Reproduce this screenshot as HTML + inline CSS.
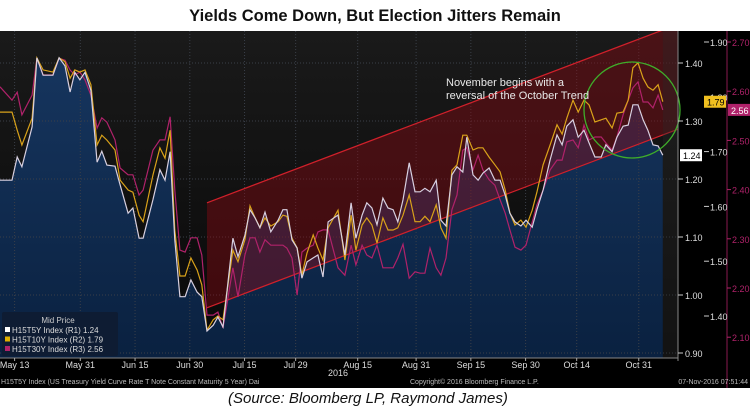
<!DOCTYPE html>
<html><head><meta charset="utf-8">
<style>
html,body{margin:0;padding:0;background:#fff;width:750px;height:416px;overflow:hidden;font-family:"Liberation Sans",sans-serif;}
#title{position:absolute;left:0;top:7px;width:750px;text-align:center;font-weight:bold;font-size:16.5px;color:#111;}
#source{position:absolute;left:228px;top:390px;font-style:italic;font-size:15px;color:#111;}
svg{position:absolute;left:0;top:31px;}
</style></head><body>
<div id="title">Yields Come Down, But Election Jitters Remain</div>
<svg id="chart" width="750" height="357"></svg>
<div id="source">(Source: Bloomberg LP, Raymond James)</div>
<script>
// day offsets from May 9 2016
const days=[0,3.3,4.7,6.0,8.8,10.1,11.8,14.5,16.2,17.8,19.2,20.5,21.9,23.3,24.9,26.6,27.9,29.3,31.5,32.9,35.1,36.4,38.1,39.2,41.9,43.8,45.2,46.6,47.9,49.3,50.7,52.3,54.0,55.3,56.7,58.4,59.7,61.1,63.8,65.2,67.1,68.5,69.9,71.2,72.6,74.2,76.2,77.5,78.6,80.0,81.4,82.7,84.1,85.8,87.1,88.5,89.9,92.6,94.5,96.2,97.5,99.2,100.5,101.9,103.3,104.9,106.3,107.7,109.0,110.4,112.1,113.7,115.1,116.4,117.8,119.5,120.8,122.2,123.8,125.2,126.8,127.9,129.6,131.0,132.3,134.0,135.6,137.0,138.4,139.7,141.1,142.7,144.1,145.8,147.1,148.8,150.7,152.6,154.0,155.3,157.0,158.4,160.0,161.4,163.0,164.7,166.0,167.7,169.0,170.7,172.1,173.4,174.8,176.2,177.5,178.9,180.3,181.6];
const y5=[1.198,1.198,1.238,1.221,1.290,1.409,1.379,1.379,1.409,1.395,1.350,1.384,1.371,1.384,1.353,1.229,1.248,1.224,1.222,1.190,1.141,1.150,1.098,1.098,1.164,1.216,1.198,1.247,1.095,0.997,0.997,1.026,1.005,0.997,0.938,0.948,0.962,0.945,1.098,1.066,1.103,1.147,1.133,1.116,1.143,1.109,1.129,1.147,1.147,1.095,1.081,1.029,1.057,1.064,1.069,1.031,1.126,1.138,1.069,1.159,1.098,1.138,1.159,1.150,1.121,1.167,1.150,1.147,1.126,1.164,1.228,1.178,1.178,1.184,1.178,1.198,1.129,1.119,1.207,1.221,1.212,1.272,1.207,1.198,1.210,1.219,1.198,1.198,1.172,1.141,1.126,1.119,1.129,1.117,1.147,1.181,1.233,1.276,1.259,1.291,1.302,1.272,1.284,1.262,1.238,1.238,1.259,1.247,1.272,1.291,1.293,1.328,1.328,1.302,1.284,1.259,1.257,1.241];
const y10=[1.772,1.772,1.739,1.712,1.761,1.871,1.849,1.845,1.871,1.864,1.834,1.849,1.845,1.849,1.822,1.712,1.730,1.721,1.703,1.648,1.630,1.626,1.584,1.572,1.657,1.707,1.688,1.739,1.557,1.473,1.473,1.506,1.484,1.457,1.374,1.393,1.400,1.393,1.520,1.499,1.539,1.601,1.579,1.561,1.579,1.564,1.572,1.584,1.582,1.542,1.524,1.475,1.515,1.548,1.524,1.502,1.561,1.593,1.502,1.584,1.520,1.566,1.579,1.566,1.533,1.579,1.557,1.557,1.561,1.584,1.621,1.572,1.572,1.582,1.572,1.603,1.561,1.542,1.666,1.676,1.730,1.730,1.703,1.707,1.707,1.690,1.676,1.663,1.630,1.588,1.566,1.575,1.562,1.593,1.626,1.676,1.712,1.749,1.732,1.761,1.794,1.772,1.794,1.785,1.754,1.758,1.761,1.743,1.770,1.772,1.794,1.853,1.862,1.834,1.818,1.812,1.822,1.791];
const y30=[2.609,2.582,2.598,2.552,2.592,2.667,2.633,2.633,2.667,2.663,2.643,2.633,2.639,2.623,2.592,2.525,2.546,2.537,2.501,2.444,2.430,2.430,2.389,2.399,2.480,2.501,2.501,2.548,2.399,2.277,2.273,2.302,2.302,2.267,2.145,2.145,2.151,2.119,2.241,2.182,2.267,2.302,2.302,2.273,2.298,2.287,2.287,2.287,2.281,2.261,2.186,2.273,2.281,2.287,2.314,2.318,2.318,2.241,2.226,2.287,2.247,2.287,2.267,2.261,2.287,2.241,2.241,2.241,2.261,2.289,2.220,2.233,2.230,2.230,2.281,2.241,2.226,2.261,2.359,2.389,2.480,2.485,2.440,2.470,2.440,2.420,2.409,2.379,2.352,2.318,2.283,2.277,2.287,2.334,2.369,2.399,2.440,2.460,2.460,2.497,2.501,2.485,2.531,2.501,2.507,2.507,2.495,2.480,2.507,2.552,2.582,2.607,2.619,2.578,2.578,2.566,2.592,2.562];
const xLabels=["May 13","May 31","Jun 15","Jun 30","Jul 15","Jul 29","Aug 15","Aug 31","Sep 15","Sep 30","Oct 14","Oct 31"];
const xLabelDays=[4,22,37,52,67,81,98,114,129,144,158,175];
const r1Ticks=[0.90,1.00,1.10,1.20,1.30,1.40];
const r2Ticks=[1.40,1.50,1.60,1.70,1.80,1.90];
const r3Ticks=[2.10,2.20,2.30,2.40,2.50,2.60,2.70];
const chStart=[56.7,0.978,1.159];
const OY=31;
const X=d=>d*3.65;
const Y1=v=>63+(1.40-v)*580-OY;
const Y2=v=>42+(1.90-v)*548-OY;
const Y3=v=>42+(2.70-v)*492-OY;
const svg=document.getElementById('chart');
const NS='http://www.w3.org/2000/svg';
function mk(t,a,p){const e=document.createElementNS(NS,t);for(const k in a)e.setAttribute(k,a[k]);(p||svg).appendChild(e);return e;}
mk('defs',{}).innerHTML='<linearGradient id="bg" x1="0" y1="0" x2="0" y2="1"><stop offset="0" stop-color="#1a1a1a"/><stop offset="1" stop-color="#080808"/></linearGradient><linearGradient id="ar" x1="0" y1="0" x2="0" y2="1"><stop offset="0" stop-color="#16355e"/><stop offset="1" stop-color="#0a2140"/></linearGradient>';
let e;
e=mk('rect',{x:0,y:0,width:750,height:357,fill:'#000'});

e=mk('rect',{x:0,y:0,width:678,height:327,fill:'url(#bg)'});

const lastX=X(days[days.length-1]);
let d='M0,327 '+days.map((v,i)=>'L'+X(v).toFixed(1)+','+Y1(y5[i]).toFixed(1)).join(' ')+' L'+lastX+',327Z';
e=mk('path',{d:d,fill:'url(#ar)'});

r1Ticks.forEach(v=>{const g=mk('line',{x1:0,x2:678,y1:Y1(v),y2:Y1(v),stroke:'#3a3f48','stroke-dasharray':'1,2','stroke-width':1});
});
xLabelDays.forEach(v=>{const g=mk('line',{x1:X(v),x2:X(v),y1:0,y2:327,stroke:'#3a3f48','stroke-dasharray':'1,2','stroke-width':1});
});
const x0=X(chStart[0]),ux0=Y1(chStart[1]),lx0=Y1(chStart[2]);
const sl=-0.379;
const ux1=ux0+sl*(678-x0),lx1=lx0+sl*(678-x0);
e=mk('polygon',{points:`${x0},${ux0} 678,${ux1} 678,${lx1} ${x0},${lx0}`,fill:'rgba(140,10,20,0.42)'});

e=mk('line',{x1:x0,y1:ux0,x2:678,y2:ux1,stroke:'#d0202a','stroke-width':1.2});

e=mk('line',{x1:x0,y1:lx0,x2:678,y2:lx1,stroke:'#d0202a','stroke-width':1.2});

e=mk('rect',{x:lastX,y:0,width:678-lastX,height:327,fill:'rgba(40,40,40,0.35)'});

function line(arr,fy,col,name){const p=days.map((v,i)=>(i?'L':'M')+X(v).toFixed(1)+','+fy(arr[i]).toFixed(1)).join(' ');
const l=mk('path',{d:p,fill:'none',stroke:col,'stroke-width':1.2});}
line(y30,Y3,'#b0226a','30y-line');
line(y10,Y2,'#d9a21a','10y-line');
line(y5,Y1,'#d8d0e0','5y-line');
e=mk('circle',{cx:632,cy:79,r:48,fill:'none',stroke:'#3fae2a','stroke-width':1.3});

function txt(x,y,s,o,name){const t=mk('text',Object.assign({x:x,y:y,'font-family':'Liberation Sans, sans-serif'},o));t.textContent=s;return t;}
txt(446,55,'November begins with a',{fill:'#e8e8e8','font-size':11},'annotation-line1');
txt(446,68,'reversal of the October Trend',{fill:'#e8e8e8','font-size':11},'annotation-line2');
mk('line',{x1:678,y1:0,x2:678,y2:330,stroke:'#888'});
mk('line',{x1:0,y1:327,x2:678,y2:327,stroke:'#888'});
mk('line',{x1:727,y1:0,x2:727,y2:357,stroke:'#8a1a50'});
r1Ticks.forEach(v=>{mk('line',{x1:678,x2:683,y1:Y1(v),y2:Y1(v),stroke:'#ccc'});txt(685,Y1(v)+4,v.toFixed(2),{fill:'#ddd','font-size':9},'r1-tick-label');});
r2Ticks.forEach(v=>{mk('line',{x1:704,x2:709,y1:Y2(v),y2:Y2(v),stroke:'#ccc'});txt(710,Y2(v)+4,v.toFixed(2),{fill:'#ddd','font-size':9},'r2-tick-label');});
r3Ticks.forEach(v=>{mk('line',{x1:727,x2:731,y1:Y3(v),y2:Y3(v),stroke:'#b0226a'});txt(732,Y3(v)+4,v.toFixed(2),{fill:'#b0226a','font-size':9},'r3-tick-label');});
function tag(x,y,w,bg,fg,s,name){const r=mk('rect',{x:x,y:y-6,width:w,height:12,fill:bg});txt(x+3,y+4,s,{fill:fg,'font-size':9},name+'-text');}
tag(680,Y1(y5[y5.length-1]),22,'#fff','#000',y5[y5.length-1].toFixed(2),'tag-5y');
tag(704,Y2(y10[y10.length-1]),22,'#f0c020','#000',y10[y10.length-1].toFixed(2),'tag-10y');
tag(728,Y3(y30[y30.length-1]),22,'#b0226a','#fff',y30[y30.length-1].toFixed(2),'tag-30y');
xLabels.forEach((s,i)=>{mk('line',{x1:X(xLabelDays[i]),x2:X(xLabelDays[i]),y1:327,y2:330,stroke:'#aaa'});txt(X(xLabelDays[i]),337,s,{fill:'#ddd','font-size':9,'text-anchor':'middle'},'x-tick-label');});
txt(338,345,'2016',{fill:'#ddd','font-size':9,'text-anchor':'middle'},'x-year-label');
txt(1,353,'H15T5Y Index (US Treasury Yield Curve Rate T Note Constant Maturity 5 Year)  Dai',{fill:'#bbb','font-size':7},'footer-desc');
txt(410,353,'Copyright\u00a9 2016 Bloomberg Finance L.P.',{fill:'#bbb','font-size':7},'footer-copyright');
txt(748,353,'07-Nov-2016 07:51:44',{fill:'#bbb','font-size':7,'text-anchor':'end'},'footer-timestamp');
e=mk('rect',{x:2,y:281,width:116,height:44,fill:'#0e1c33',rx:2});

txt(58,292,'Mid Price',{fill:'#ccc','font-size':8,'text-anchor':'middle'},'legend-title');
[['#fff','H15T5Y Index  (R1)  1.24'],['#e0b000','H15T10Y Index  (R2) 1.79'],['#b0226a','H15T30Y Index  (R3) 2.56']].forEach((l,i)=>{
const r=mk('rect',{x:5,y:296+i*9.5,width:5,height:5,fill:l[0]});
txt(12,302+i*9.5,l[1],{fill:'#ddd','font-size':8},'legend-entry');});
</script>
</body></html>
